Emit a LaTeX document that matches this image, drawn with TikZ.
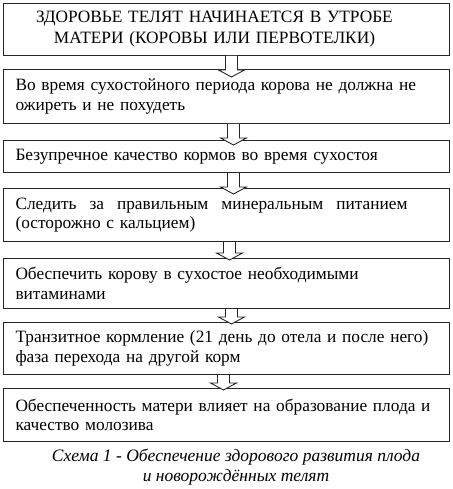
\documentclass[tikz,border=0pt]{standalone}
\usepackage{fontspec}
\setmainfont{Liberation Serif}
\usetikzlibrary{calc}
\tikzset{
  stepbox/.style={draw=black!85, line width=1pt, anchor=north west, minimum width=446pt,
    text width=422pt, inner xsep=12pt, inner ysep=2pt, align=left,
    font=\fontsize{17.3}{19.5}\selectfont},
  arrowline/.style={draw=black!85, line width=0.9pt, fill=white, line join=miter},
  captiontext/.style={align=center, font=\fontsize{17.5}{19.5}\selectfont\itshape, inner sep=0pt}
}
\newcommand{\hollowarrow}[4]{%
  \filldraw[arrowline] ($(#1.south)+(#3-6pt,0)$) -- ($(#2.north)+(#3-6pt,-#4+7pt)$)
    -- ($(#2.north)+(#3-13pt,-#4+7pt)$) -- ($(#2.north)+(#3,-#4)$)
    -- ($(#2.north)+(#3+13pt,-#4+7pt)$) -- ($(#2.north)+(#3+6pt,-#4+7pt)$)
    -- ($(#1.south)+(#3+6pt,0)$);
}
\begin{document}
\begin{tikzpicture}[x=1pt,y=-1pt]
\useasboundingbox (0,0) rectangle (452,489);
\fill[white] (0,0) rectangle (452,489);
\node[stepbox, minimum height=52pt, align=center, font=\fontsize{17.3}{21}\selectfont] (b1) at (3,3)
  {\hspace*{-24pt}ЗДОРОВЬЕ ТЕЛЯТ НАЧИНАЕТСЯ В УТРОБЕ\\\hspace*{-24pt}МАТЕРИ (КОРОВЫ ИЛИ ПЕРВОТЕЛКИ)};
\node[stepbox, minimum height=54pt] (b2) at (3,69)
  {Во время сухостойного периода корова не должна не\\ожиреть и не похудеть};
\node[stepbox, minimum height=32pt] (b3) at (3,140)
  {Безупречное качество кормов во время сухостоя};
\node[stepbox, minimum height=53pt] (b4) at (3,188)
  {\hbox to 392pt{Следить\hfill за\hfill правильным\hfill минеральным\hfill питанием}\\(осторожно с кальцием)};
\node[stepbox, minimum height=50pt] (b5) at (3,258)
  {Обеспечить корову в сухостое необходимыми\\витаминами};
\node[stepbox, minimum height=52pt] (b6) at (3,322)
  {Транзитное кормление (21 день до отела и после него)\\фаза перехода на другой корм};
\node[stepbox, minimum height=53pt] (b7) at (3,388)
  {Обеспеченность матери влияет на образование плода и\\качество молозива};
\hollowarrow{b1}{b2}{5pt}{8pt}
\hollowarrow{b2}{b3}{7pt}{5pt}
\hollowarrow{b3}{b4}{7pt}{6pt}
\hollowarrow{b4}{b5}{3pt}{2pt}
\hollowarrow{b5}{b6}{5pt}{2pt}
\hollowarrow{b6}{b7}{-3pt}{2pt}
\node[captiontext] (cap) at (236,467)
  {Схема 1 - Обеспечение здорового развития плода\\и новорождённых телят};
\end{tikzpicture}
\end{document}
